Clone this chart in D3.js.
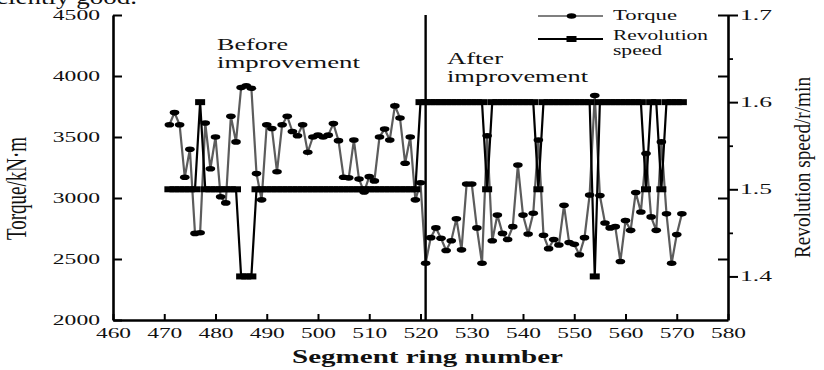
<!DOCTYPE html>
<html>
<head>
<meta charset="utf-8">
<script src="https://cdn.jsdelivr.net/npm/d3@7"></script>
<style>
  html, body { margin: 0; padding: 0; background: #fff; }
  svg { display: block; }
  text { font-family: "Liberation Serif", "Times New Roman", serif; fill: #111; }
</style>
</head>
<body>
<svg id="chart" width="824" height="370"></svg>
<script>
// Segment ring numbers (x)
const rings = [
  471,472,473,474,475,476,477,478,479,480,481,482,483,484,485,486,487,488,489,490,
  491,492,493,494,495,496,497,498,499,500,501,502,503,504,505,506,507,508,509,510,
  511,512,513,514,515,516,517,518,519,520,521,522,523,524,525,526,527,528,529,530,
  531,532,533,534,535,536,537,538,539,540,541,542,543,544,545,546,547,548,549,550,
  551,552,553,554,555,556,557,558,559,560,561,562,563,564,565,566,567,568,569,570,
  571
];

// Cutter-head torque, kN·m
const torque = [
  3600,3700,3600,3170,3400,2710,2715,3615,3240,3500,3010,2960,3670,3460,3905,3920,3900,3200,2985,3600,
  3570,3215,3600,3670,3545,3510,3600,3375,3500,3515,3500,3515,3610,3470,3170,3165,3475,3155,3050,3175,
  3140,3500,3565,3475,3755,3655,3285,3500,2985,3125,2465,2675,2755,2670,2570,2650,2830,2575,3115,3115,
  2755,2465,3510,2650,2860,2710,2660,2765,3270,2860,2705,2875,3475,2695,2585,2660,2615,2940,2635,2620,
  2535,2675,3025,3840,3020,2795,2755,2765,2480,2815,2735,3045,2885,3365,2845,2735,3460,2870,2465,2700,
  2870
];

// Cutter-head revolution speed, r/min
const revolution = [
  1.5,1.5,1.5,1.5,1.5,1.5,1.6,1.5,1.5,1.5,1.5,1.5,1.5,1.5,1.4,1.4,1.4,1.5,1.5,1.5,
  1.5,1.5,1.5,1.5,1.5,1.5,1.5,1.5,1.5,1.5,1.5,1.5,1.5,1.5,1.5,1.5,1.5,1.5,1.5,1.5,
  1.5,1.5,1.5,1.5,1.5,1.5,1.5,1.5,1.5,1.6,1.6,1.6,1.6,1.6,1.6,1.6,1.6,1.6,1.6,1.6,
  1.6,1.6,1.5,1.6,1.6,1.6,1.6,1.6,1.6,1.6,1.6,1.6,1.5,1.6,1.6,1.6,1.6,1.6,1.6,1.6,
  1.6,1.6,1.6,1.4,1.6,1.6,1.6,1.6,1.6,1.6,1.6,1.6,1.6,1.5,1.6,1.6,1.5,1.6,1.6,1.6,
  1.6
];

// Axis ticks
const xTicks = [460,470,480,490,500,510,520,530,540,550,560,570,580];
const torqueTicks = [2000,2500,3000,3500,4000,4500];
const speedTicks = [1.4,1.5,1.6,1.7];
const speedMinorTicks = [1.45,1.55,1.65];

// Ring where the improvement starts
const dividerRing = 521;

const legendNames = ["Torque", ["Revolution", "speed"]];
const periodLabels = [["Before", "improvement"], ["After", "improvement"]];

const svg = d3.select("#chart");

const x = d3.scaleLinear().domain([460, 580]).range([113, 728]);
const yT = d3.scaleLinear().domain([2000, 4500]).range([320, 15]);
const yR = d3.scaleLinear().domain([1.35, 1.7]).range([320, 15]);

// widen text the way the figure's lettering is drawn
function stretchLabels(sel, perDigit, perDot) {
  sel.selectAll(".tick text").each(function () {
    const s = this.textContent;
    if (!s) return;
    let w = 0;
    for (const c of s) w += (c === "." ? perDot : perDigit);
    d3.select(this).attr("textLength", w).attr("lengthAdjust", "spacingAndGlyphs");
  });
}

function styleAxis(g) {
  g.select(".domain").attr("stroke", "#000").attr("stroke-width", 2.6);
  g.selectAll(".tick line").attr("stroke", "#000").attr("stroke-width", 2);
  g.selectAll(".tick text").attr("font-size", 14).attr("fill", "#111")
    .attr("font-family", "Liberation Serif, serif");
}

// ---- torque series (drawn first, speed on top)
const torqueLine = d3.line().x((d, i) => x(rings[i])).y(d => yT(d));
svg.append("path")
  .datum(torque)
  .attr("d", torqueLine)
  .attr("fill", "none")
  .attr("stroke", "#5c5c5c")
  .attr("stroke-width", 2.2)
  .attr("stroke-linejoin", "miter");

// ---- revolution speed series
const speedLine = d3.line().x((d, i) => x(rings[i])).y(d => yR(d));
svg.append("path")
  .datum(revolution)
  .attr("d", speedLine)
  .attr("fill", "none")
  .attr("stroke", "#000")
  .attr("stroke-width", 2.2);

svg.append("g").selectAll("rect")
  .data(revolution)
  .join("rect")
  .attr("x", (d, i) => x(rings[i]) - 5)
  .attr("y", d => yR(d) - 3)
  .attr("width", 10)
  .attr("height", 6)
  .attr("fill", "#000");

svg.append("g").selectAll("ellipse")
  .data(torque)
  .join("ellipse")
  .attr("cx", (d, i) => x(rings[i]))
  .attr("cy", d => yT(d))
  .attr("rx", 4.8)
  .attr("ry", 2.8)
  .attr("fill", "#000");

// ---- divider between the two periods
svg.append("line")
  .attr("x1", x(dividerRing)).attr("x2", x(dividerRing))
  .attr("y1", yT(4500)).attr("y2", yT(2000))
  .attr("stroke", "#000").attr("stroke-width", 2.4);

// ---- axes
const gx = svg.append("g").attr("transform", "translate(0,320)")
  .call(d3.axisBottom(x).tickValues(xTicks).tickSize(-6).tickSizeOuter(0)
    .tickPadding(8).tickFormat(d3.format("d")));
styleAxis(gx);
stretchLabels(gx, 11.7, 6);

const gl = svg.append("g").attr("transform", "translate(113,0)")
  .call(d3.axisLeft(yT).tickValues(torqueTicks).tickSize(-9).tickSizeOuter(0)
    .tickPadding(13).tickFormat(d3.format("d")));
styleAxis(gl);
stretchLabels(gl, 11.8, 6);

// mirrored torque ticks on the right frame
const gm = svg.append("g").attr("transform", "translate(728,0)")
  .call(d3.axisLeft(yT).tickValues(torqueTicks.slice(1)).tickSize(10).tickSizeOuter(0)
    .tickFormat(""));
gm.select(".domain").remove();
gm.selectAll(".tick line").attr("stroke", "#000").attr("stroke-width", 2);

const gr = svg.append("g").attr("transform", "translate(728,0)")
  .call(d3.axisRight(yR).tickValues(speedTicks).tickSize(10).tickSizeOuter(0)
    .tickPadding(2).tickFormat(d3.format(".1f")));
styleAxis(gr);
stretchLabels(gr, 12, 8);

const grm = svg.append("g").attr("transform", "translate(728,0)")
  .call(d3.axisRight(yR).tickValues(speedMinorTicks).tickSize(5).tickSizeOuter(0)
    .tickFormat(""));
grm.select(".domain").remove();
grm.selectAll(".tick line").attr("stroke", "#000").attr("stroke-width", 1.8);

// ---- axis titles
svg.append("text")
  .attr("transform", "translate(26,188.5) rotate(-90) scale(1,1.5)")
  .attr("text-anchor", "middle")
  .attr("font-size", 19)
  .attr("textLength", 103).attr("lengthAdjust", "spacingAndGlyphs")
  .text("Torque/kN·m");

svg.append("text")
  .attr("transform", "translate(810,167.5) rotate(-90) scale(1,1.2)")
  .attr("text-anchor", "middle")
  .attr("font-size", 19)
  .attr("textLength", 181).attr("lengthAdjust", "spacingAndGlyphs")
  .text("Revolution speed/r/min");

svg.append("text")
  .attr("x", 292).attr("y", 363)
  .attr("font-size", 19).attr("font-weight", "bold")
  .attr("textLength", 271).attr("lengthAdjust", "spacingAndGlyphs")
  .text("Segment ring number");

// ---- period annotations
function twoLine(x0, y0, lines, widths, gap) {
  lines.forEach((s, i) => {
    svg.append("text")
      .attr("x", x0).attr("y", y0 + i * gap)
      .attr("font-size", 17)
      .attr("textLength", widths[i]).attr("lengthAdjust", "spacingAndGlyphs")
      .text(s);
  });
}
twoLine(217, 49.5, periodLabels[0], [71, 143], 18.5);
twoLine(447, 64, periodLabels[1], [56, 141], 17.5);

// ---- legend
const lg = svg.append("g");
lg.append("line").attr("x1", 538).attr("x2", 603).attr("y1", 16).attr("y2", 16)
  .attr("stroke", "#555").attr("stroke-width", 1.6);
lg.append("ellipse").attr("cx", 571.5).attr("cy", 16).attr("rx", 4.8).attr("ry", 2.8).attr("fill", "#000");
lg.append("text").attr("x", 613).attr("y", 20).attr("font-size", 14.5)
  .attr("textLength", 64).attr("lengthAdjust", "spacingAndGlyphs").text(legendNames[0]);

lg.append("line").attr("x1", 538).attr("x2", 603).attr("y1", 39).attr("y2", 39)
  .attr("stroke", "#000").attr("stroke-width", 2);
lg.append("rect").attr("x", 566.5).attr("y", 36).attr("width", 10).attr("height", 6).attr("fill", "#000");
lg.append("text").attr("x", 613).attr("y", 40).attr("font-size", 14.5)
  .attr("textLength", 95).attr("lengthAdjust", "spacingAndGlyphs").text(legendNames[1][0]);
lg.append("text").attr("x", 613).attr("y", 55).attr("font-size", 14.5)
  .attr("textLength", 49).attr("lengthAdjust", "spacingAndGlyphs").text(legendNames[1][1]);

// ---- running text line above the figure
svg.append("text")
  .attr("x", 137).attr("y", 3.5)
  .attr("text-anchor", "end")
  .attr("font-size", 20)
  .attr("textLength", 190).attr("lengthAdjust", "spacingAndGlyphs")
  .text("sufficiently good.");
</script>
</body>
</html>
